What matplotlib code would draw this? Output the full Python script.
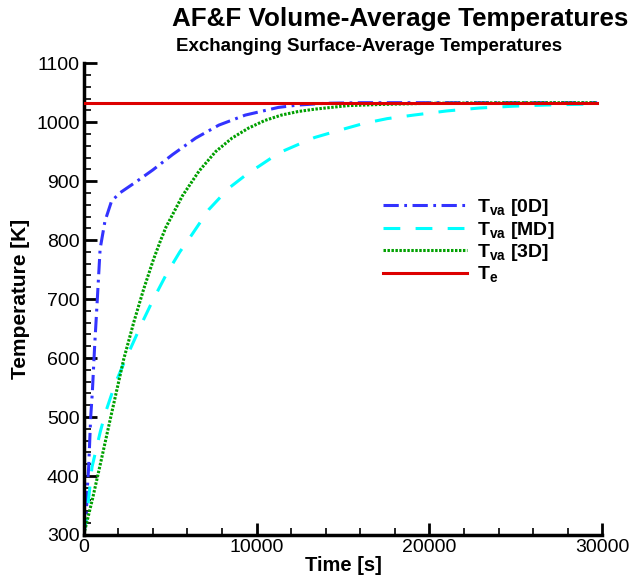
import numpy as np
import matplotlib
matplotlib.use("Agg")
import matplotlib.pyplot as plt
from matplotlib.ticker import MultipleLocator

plt.rcParams['font.family'] = ['Liberation Sans', 'DejaVu Sans']
plt.rcParams['mathtext.fontset'] = 'custom'
plt.rcParams['mathtext.rm'] = 'Liberation Sans:bold'
plt.rcParams['mathtext.bf'] = 'Liberation Sans:bold'

# time [s] / temperature [K]
t_0d = [0, 150, 200, 290, 405, 500, 635, 785, 950, 1230, 1610, 2090, 3040, 4000,
        5140, 6480, 7820, 9350, 11260, 12400, 14000, 16000, 29700]
T_0d = [300, 330, 375, 416, 500, 542, 621, 698, 785, 832, 866, 880, 899, 919,
        945, 973, 995, 1012, 1025, 1029, 1032, 1033, 1033]

t_md = [0, 200, 480, 960, 1265, 1840, 2410, 2890, 3460, 4035, 4800, 5560, 6230,
        7243, 8390, 9536, 10126, 11300, 12400, 13360, 14880, 16220, 17560, 19090,
        21000, 22900, 24820, 26710, 29700]
T_md = [300, 338, 415, 475, 508, 558, 597, 628, 665, 700, 743, 780, 808,
        852, 888, 914, 925, 948, 962, 974, 987, 998, 1006, 1012,
        1019, 1024, 1027, 1029, 1031]

t_3d = [0, 500, 1000, 1550, 2315, 2890, 3460, 4035, 4455, 4760, 5710, 6670, 7630,
        8580, 9540, 10490, 11440, 12400, 13360, 15270, 17160, 20000, 25000, 29700]
T_3d = [300, 360, 425, 498, 598, 660, 716, 767, 800, 822, 875, 917, 950,
        973, 990, 1003, 1012, 1018, 1022, 1028, 1030, 1032, 1033, 1033]

t_e = [0, 29700]
T_e = [1033, 1033]

fig = plt.figure(figsize=(6.34, 5.85), dpi=100)
ax = fig.add_axes([0.132, 0.0855, 0.818, 0.8065])

lw = 2.2
ax.plot(t_0d, T_0d, color='#3333ff', lw=lw, linestyle=(0, (5, 1.8, 0.9, 1.8)),
        label=r'T$_{\mathrm{va}}$ [0D]')
ax.plot(t_md, T_md, color='#00ffff', lw=lw, linestyle=(0, (5.5, 5)),
        label=r'T$_{\mathrm{va}}$ [MD]')
ax.plot(t_3d, T_3d, color='#00a000', lw=lw, linestyle=(0, (0.8, 0.5)),
        label=r'T$_{\mathrm{va}}$ [3D]')
ax.plot(t_e, T_e, color='#dd0000', lw=lw, label=r'T$_{\mathrm{e}}$', zorder=5)

ax.set_xlim(0, 30000)
ax.set_ylim(300, 1100)
ax.xaxis.set_major_locator(MultipleLocator(10000))
ax.xaxis.set_minor_locator(MultipleLocator(2000))
ax.yaxis.set_major_locator(MultipleLocator(100))
ax.yaxis.set_minor_locator(MultipleLocator(20))

for s in ['top', 'right']:
    ax.spines[s].set_visible(False)
for s in ['left', 'bottom']:
    ax.spines[s].set_linewidth(2.5)

ax.tick_params(which='major', direction='in', length=9, width=2, labelsize=14, pad=3)
ax.tick_params(which='minor', direction='in', length=5, width=1.2)

ax.set_xlabel('Time [s]', fontsize=14.5, fontweight='bold', labelpad=0)
ax.set_ylabel('Temperature [K]', fontsize=15, fontweight='bold', labelpad=4)

fig.text(0.631, 0.968, 'AF&F Volume-Average Temperatures', ha='center', va='center',
         fontsize=18.7, fontweight='bold')
fig.text(0.582, 0.921, 'Exchanging Surface-Average Temperatures', ha='center', va='center',
         fontsize=13.5, fontweight='bold')

ax.legend(loc='upper left', bbox_to_anchor=(0.578, 0.716), frameon=False,
          prop={'size': 14, 'weight': 'bold'}, handlelength=4.3, handletextpad=0.5,
          labelspacing=0.08, borderpad=0, borderaxespad=0)

fig.savefig('out.png', dpi=100)
